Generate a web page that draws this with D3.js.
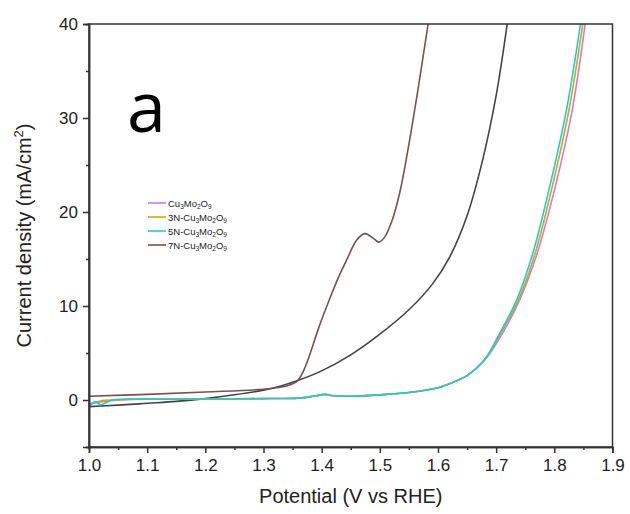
<!DOCTYPE html>
<html><head><meta charset="utf-8">
<script src="https://cdn.jsdelivr.net/npm/d3@7"></script>
<style>body{margin:0;background:#fff}svg{display:block}</style>
</head><body><svg id="c" width="630" height="514"></svg>
<script>
// ---- data ----
const xTicks = [1.0,1.1,1.2,1.3,1.4,1.5,1.6,1.7,1.8,1.9];
const yTicks = [0,10,20,30,40];

const cuX = [1.0,1.02,1.05,1.1,1.2,1.3,1.36,1.39,1.405,1.42,1.45,1.5,1.55,1.6,1.63,1.65,1.68,1.71,1.74,1.77,1.80,1.83,1.853];
const cuY = [-0.4,-0.2,0.0,0.1,0.1,0.15,0.2,0.45,0.6,0.45,0.4,0.55,0.8,1.3,2.0,2.6,4.2,7.0,10.6,15.5,22.3,30.6,40];

const n3X = [1.0,1.02,1.05,1.1,1.2,1.3,1.36,1.39,1.405,1.42,1.45,1.5,1.55,1.6,1.63,1.65,1.68,1.708,1.738,1.767,1.796,1.825,1.849];
const n3Y = [-0.5,-0.1,0.0,0.1,0.1,0.15,0.2,0.45,0.6,0.45,0.4,0.55,0.8,1.3,2.0,2.6,4.3,7.1,10.6,15.6,22.6,30.8,40];

const n5X = [1.0,1.01,1.02,1.04,1.1,1.2,1.3,1.36,1.39,1.405,1.42,1.45,1.5,1.55,1.6,1.63,1.65,1.68,1.706,1.735,1.763,1.792,1.821,1.845];
const n5Y = [-0.7,-0.2,-0.5,0.0,0.1,0.1,0.15,0.2,0.45,0.6,0.45,0.4,0.55,0.8,1.3,2.0,2.6,4.3,7.1,10.6,15.6,22.7,30.9,40];

const n7X = [1.0,1.1,1.2,1.3,1.34,1.358,1.368,1.38,1.395,1.414,1.43,1.443,1.46,1.474,1.489,1.498,1.508,1.52,1.534,1.548,1.565,1.583];
const n7Y = [0.4,0.6,0.85,1.15,1.5,2.0,3.0,4.9,7.7,10.8,13.2,14.9,17.0,17.7,17.2,16.8,17.3,18.9,22.0,26.5,32.8,40];

const blkX = [1.0,1.05,1.1,1.15,1.2,1.25,1.3,1.33,1.36,1.4,1.45,1.5,1.55,1.59,1.62,1.65,1.677,1.70,1.719];
const blkY = [-0.7,-0.55,-0.35,-0.15,0.15,0.55,1.05,1.5,2.1,3.1,4.8,7.0,9.6,12.3,15.2,19.6,25.6,32.4,40];

const seriesNames = ["Cu3Mo2O9","3N-Cu3Mo2O9","5N-Cu3Mo2O9","7N-Cu3Mo2O9","unlabeled"];
const seriesColors = ["#c27ee8","#d4a21c","#1ecdc8","#7d4f50","#444444"];
const seriesXs = [cuX,n3X,n5X,n7X,blkX];
const seriesYs = [cuY,n3Y,n5Y,n7Y,blkY];

// ---- chart ----
const svg = d3.select("#c");
const L=89, R=612.5, T=24, B=447;
const x = d3.scaleLinear().domain([1.0,1.9]).range([L,R]);
const y = d3.scaleLinear().domain([-5,40]).range([B,T]);
const font = "'Liberation Sans', Arial, sans-serif";

svg.append("defs").append("clipPath").attr("id","clip")
  .append("rect").attr("x",L).attr("y",T).attr("width",R-L).attr("height",B-T);

const line = d3.line().x(d=>x(d[0])).y(d=>y(d[1])).curve(d3.curveCatmullRom.alpha(0.5));
const g = svg.append("g").attr("clip-path","url(#clip)");
[4,3,0,1,2].forEach(i=>{
  const pts = seriesXs[i].map((v,k)=>[v,seriesYs[i][k]]);
  g.append("path").attr("d",line(pts)).attr("fill","none")
   .attr("stroke",seriesColors[i]).attr("stroke-width",1.6);
});

svg.append("rect").attr("x",L).attr("y",T).attr("width",R-L).attr("height",B-T)
  .attr("fill","none").attr("stroke","#333").attr("stroke-width",1.5);

const xAx = svg.append("g").attr("transform",`translate(0,${B})`)
  .call(d3.axisBottom(x).tickValues(xTicks).tickFormat(d3.format(".1f")).tickSize(6).tickPadding(6));
const xMin = svg.append("g").attr("transform",`translate(0,${B})`)
  .call(d3.axisBottom(x).tickValues(d3.range(1.05,1.9,0.1)).tickFormat("").tickSize(3));
const yAx = svg.append("g").attr("transform",`translate(${L},0)`)
  .call(d3.axisLeft(y).tickValues(yTicks).tickSize(6).tickPadding(5));
const yMin = svg.append("g").attr("transform",`translate(${L},0)`)
  .call(d3.axisLeft(y).tickValues([-5,5,15,25,35]).tickFormat("").tickSize(3));
[xAx,xMin,yAx,yMin].forEach(a=>{
  a.select(".domain").attr("stroke","#333").attr("stroke-width",1.5);
  a.selectAll(".tick line").attr("stroke","#333").attr("stroke-width",1.5);
  a.selectAll("text").attr("font-family",font).attr("font-size",17).attr("fill","#222");
});

svg.append("text").attr("x",(L+R)/2).attr("y",503).attr("text-anchor","middle")
  .attr("font-family",font).attr("font-size",20).attr("fill","#222").text("Potential (V vs RHE)");

const yt = svg.append("text").attr("transform",`translate(31,${(T+B)/2}) rotate(-90)`)
  .attr("text-anchor","middle").attr("font-family",font).attr("font-size",20).attr("fill","#222");
yt.append("tspan").text("Current density (mA/cm");
yt.append("tspan").attr("font-size",13).attr("dy",-8).text("2");
yt.append("tspan").attr("dy",8).text(")");

svg.append("text").attr("x",127).attr("y",132).attr("font-family","'Open Sans', sans-serif")
  .attr("font-size",70).attr("fill","#000").text("a");

const legItems = [
  {c:seriesColors[0], parts:[["Cu",0],["3",1],["Mo",0],["2",1],["O",0],["9",1]]},
  {c:seriesColors[1], parts:[["3N-Cu",0],["3",1],["Mo",0],["2",1],["O",0],["9",1]]},
  {c:seriesColors[2], parts:[["5N-Cu",0],["3",1],["Mo",0],["2",1],["O",0],["9",1]]},
  {c:seriesColors[3], parts:[["7N-Cu",0],["3",1],["Mo",0],["2",1],["O",0],["9",1]]}
];
legItems.forEach((it,i)=>{
  const yy = 203 + i*14;
  svg.append("line").attr("x1",148).attr("x2",166).attr("y1",yy).attr("y2",yy)
    .attr("stroke",it.c).attr("stroke-width",1.6);
  const t = svg.append("text").attr("x",168).attr("y",yy+3.5)
    .attr("font-family",font).attr("font-size",9.5).attr("fill","#222");
  let sub=false;
  it.parts.forEach(([s,isSub])=>{
    const ts = t.append("tspan").text(s);
    if(isSub && !sub){ts.attr("font-size",6.5).attr("dy",2.5);sub=true;}
    else if(isSub && sub){ts.attr("font-size",6.5);}
    else if(!isSub && sub){ts.attr("dy",-2.5);sub=false;}
  });
});
</script></body></html>
